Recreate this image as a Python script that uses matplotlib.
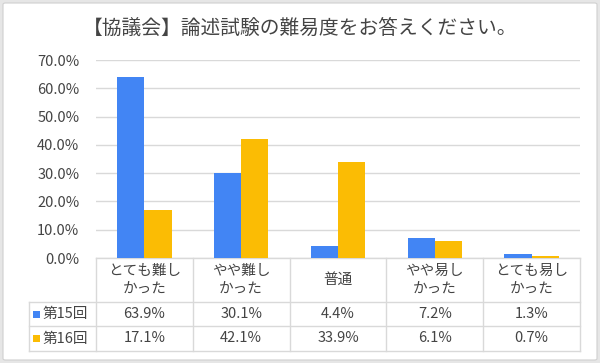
import matplotlib.pyplot as plt
from matplotlib.patches import FancyBboxPatch, Rectangle
from matplotlib.lines import Line2D

plt.rcParams['font.family'] = ['Noto Sans CJK JP', 'DejaVu Sans']

title = '【協議会】論述試験の難易度をお答えください。'
categories = ['とても難し\nかった', 'やや難し\nかった', '普通', 'やや易し\nかった', 'とても易し\nかった']
series_names = ['第15回', '第16回']
round15 = [63.9, 30.1, 4.4, 7.2, 1.3]
round16 = [17.1, 42.1, 33.9, 6.1, 0.7]
colors = ['#4285F4', '#FBBC04']
yticks = [0, 10, 20, 30, 40, 50, 60, 70]

text_color = '#444444'
grid_color = '#d9d9d9'

W, H = 600, 363
fig = plt.figure(figsize=(W / 100, H / 100), dpi=100)
fig.patch.set_facecolor('#e6e6e6')
# white chart card
card = FancyBboxPatch((3 / W, 3 / H), 594 / W, 357 / H,
                      boxstyle='round,pad=0,rounding_size=0.004',
                      transform=fig.transFigure, facecolor='white',
                      edgecolor='#d0d0d0', linewidth=0.8, zorder=-10)
fig.patches.append(card)

ax_left, ax_right = 96, 580
ax_top, ax_bottom = 60, 258
ax = fig.add_axes([ax_left / W, 1 - ax_bottom / H,
                   (ax_right - ax_left) / W, (ax_bottom - ax_top) / H])
ax.set_facecolor('none')

n = len(categories)
bw = 0.28
xs = list(range(n))
ax.bar([x - bw / 2 for x in xs], round15, width=bw, color=colors[0], zorder=3)
ax.bar([x + bw / 2 for x in xs], round16, width=bw, color=colors[1], zorder=3)

ax.set_xlim(-0.5, n - 0.5)
ax.set_ylim(0, 70)
ax.set_yticks(yticks)
ax.set_yticklabels([f'{v:.1f}%' for v in yticks], fontsize=10.5, color=text_color)
ax.set_xticks([])
ax.tick_params(axis='y', length=0, pad=12)
for s in ax.spines.values():
    s.set_visible(False)
ax.yaxis.grid(True, color=grid_color, linewidth=1, zorder=0)

fig.suptitle(title, y=1 - 28 / H, va='center', fontsize=14.2, color=text_color)

# data table under the axes (axes-fraction coordinates)
ah = ax_bottom - ax_top
aw = ax_right - ax_left
def fy(px):
    return -(px - ax_bottom) / ah

left_x = (29 - ax_left) / aw
row_y = [fy(258), fy(302), fy(326), fy(351)]
tkw = dict(transform=ax.transAxes, clip_on=False, color=grid_color, linewidth=1)

# horizontal lines
ax.add_line(Line2D([0, 1], [row_y[0]] * 2, **tkw))
for yy in row_y[1:]:
    ax.add_line(Line2D([left_x, 1], [yy] * 2, **tkw))
# vertical lines
ax.add_line(Line2D([left_x, left_x], [row_y[1], row_y[3]], **tkw))
for i in range(n + 1):
    ax.add_line(Line2D([i / n, i / n], [row_y[0], row_y[3]], **tkw))

for i, cat in enumerate(categories):
    cx = (i + 0.5) / n
    ax.text(cx, (row_y[0] + row_y[1]) / 2, cat, transform=ax.transAxes,
            ha='center', va='center', fontsize=10.5, color=text_color,
            linespacing=1.45)
    for r, vals in enumerate([round15, round16]):
        ax.text(cx, (row_y[r + 1] + row_y[r + 2]) / 2, f'{vals[i]:.1f}%',
                transform=ax.transAxes, ha='center', va='center',
                fontsize=10.5, color=text_color)

sq = 7
for r, name in enumerate(series_names):
    yc = (row_y[r + 1] + row_y[r + 2]) / 2
    ax.add_patch(Rectangle(((33 - ax_left) / aw, yc - sq / 2 / ah), sq / aw, sq / ah,
                           transform=ax.transAxes, clip_on=False,
                           facecolor=colors[r], edgecolor='none'))
    ax.text((43 - ax_left) / aw, yc, name, transform=ax.transAxes,
            ha='left', va='center', fontsize=10.5, color=text_color)

fig.savefig('out.png', dpi=100, facecolor=fig.get_facecolor())
